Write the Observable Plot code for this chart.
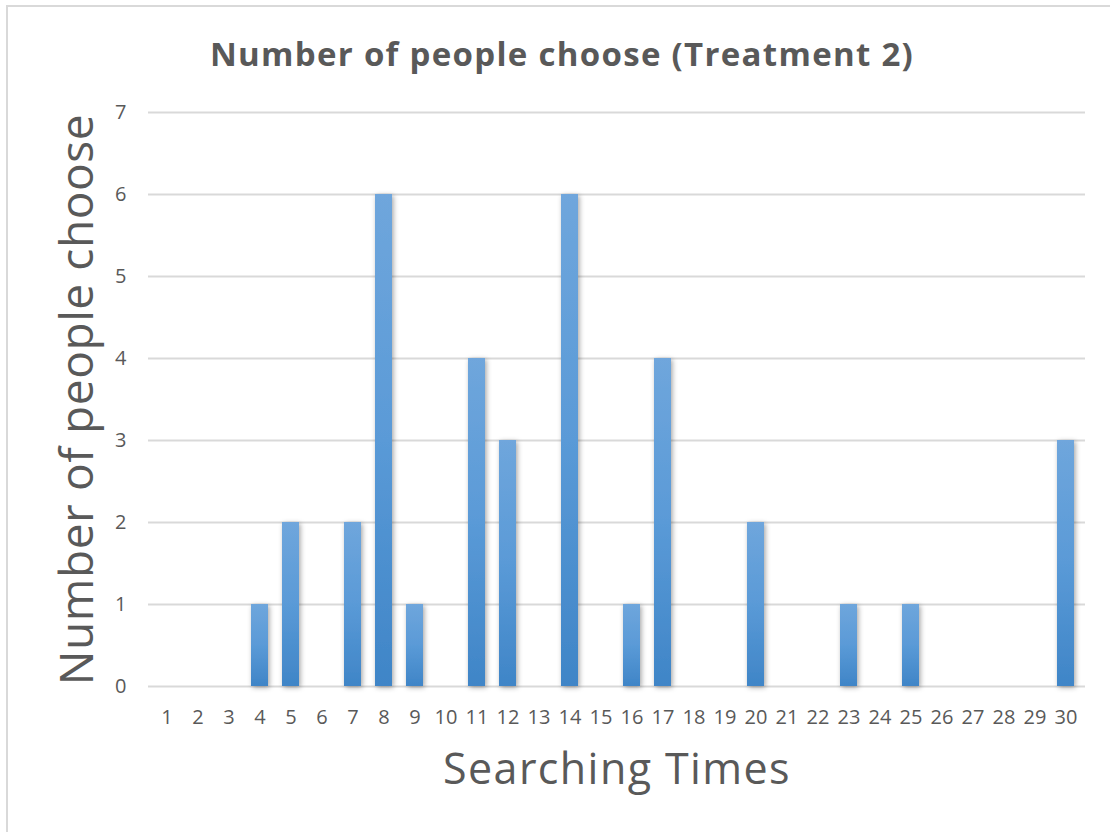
<!DOCTYPE html>
<html>
<head>
<meta charset="utf-8">
<script src="https://cdn.jsdelivr.net/npm/d3@7"></script>
<script src="https://cdn.jsdelivr.net/npm/@observablehq/plot@0.6"></script>
<style>
  html, body { margin: 0; padding: 0; background: #fff; }
  #chart {
    position: relative;
    width: 1110px;
    height: 832px;
    overflow: hidden;
    font-family: "Open Sans", Lato, sans-serif;
  }
  #frame {
    position: absolute;
    left: 6px;
    top: 5px;
    right: -10px;
    bottom: -10px;
    border-top: 2px solid #d9d9d9;
    border-left: 2px solid #d9d9d9;
    pointer-events: none;
  }
  #title {
    position: relative;
    height: 80px;
  }
  #title span {
    position: absolute;
    left: 562px;
    top: 37px;
    transform: translateX(-50%);
    white-space: nowrap;
    font-size: 33px;
    letter-spacing: 1.3px;
    line-height: 1;
    font-weight: bold;
    color: #595959;
  }
  #plot svg { display: block; }
  .axis-title-x { letter-spacing: 1.4px; }
  .axis-title-y { letter-spacing: 0.6px; }
</style>
</head>
<body>
<div id="chart">
  <div id="frame"></div>
  <div id="title"><span>Number of people choose (Treatment 2)</span></div>
  <div id="plot"></div>
</div>
<script>
// Searching times (categories) and how many people chose each
const searchingTimes = [1, 2, 3, 4, 5, 6, 7, 8, 9, 10, 11, 12, 13, 14, 15,
                        16, 17, 18, 19, 20, 21, 22, 23, 24, 25, 26, 27, 28, 29, 30];
const peopleCount    = [0, 0, 0, 1, 2, 0, 2, 6, 1, 0, 4, 3, 0, 6, 0,
                        1, 4, 0, 0, 2, 0, 0, 1, 0, 1, 0, 0, 0, 0, 3];
const yTicks = [0, 1, 2, 3, 4, 5, 6, 7];

const rows = searchingTimes.map((t, i) => ({time: t, count: peopleCount[i]}));

const textColor = "#595959";
const gridColor = "#d9d9d9";
const font = "'Open Sans', Lato, sans-serif";

// gradient fill and soft shadow for the columns
const defs = () => {
  const ns = "http://www.w3.org/2000/svg";
  const d = document.createElementNS(ns, "defs");
  d.innerHTML = `
    <linearGradient id="colFill" x1="0" y1="0" x2="0" y2="1">
      <stop offset="0%" stop-color="#6fa6dc"/>
      <stop offset="50%" stop-color="#5a9ad7"/>
      <stop offset="100%" stop-color="#3f85c7"/>
    </linearGradient>
    <filter id="colShadow" x="-60%" y="-10%" width="220%" height="120%">
      <feDropShadow dx="1.5" dy="1.5" stdDeviation="2.5" flood-color="#000" flood-opacity="0.35"/>
    </filter>`;
  return d;
};

const chart = Plot.plot({
  width: 1110,
  height: 752,
  marginTop: 32,
  marginLeft: 148,
  marginRight: 25,
  marginBottom: 146,
  style: {fontFamily: font, background: "transparent"},
  x: {type: "band", domain: searchingTimes, paddingInner: 0.45, paddingOuter: 0.225, align: 0.5},
  y: {domain: [0, 7]},
  marks: [
    defs,
    Plot.gridY(yTicks, {stroke: gridColor, strokeOpacity: 1, strokeWidth: 2}),
    Plot.barY(rows.filter(d => d.count > 0), {
      x: "time",
      y: "count",
      fill: "url(#colFill)"
    }),
    Plot.axisX({tickSize: 0, tickPadding: 23, fontSize: 20, color: textColor, label: null}),
    Plot.axisY(yTicks, {tickSize: 0, tickPadding: 22, fontSize: 20, color: textColor, label: null, tickFormat: d => String(d)}),
    Plot.text(["Searching Times"], {
      frameAnchor: "bottom",
      lineAnchor: "bottom",
      dy: 97,
      fontSize: 43,
      fill: textColor,
      className: "axis-title-x"
    }),
    Plot.text(["Number of people choose"], {
      frameAnchor: "left",
      textAnchor: "middle",
      lineAnchor: "bottom",
      rotate: -90,
      dx: -56,
      fontSize: 46,
      fill: textColor,
      className: "axis-title-y"
    })
  ]
});

// soft shadow on the column group
chart.querySelectorAll("g[aria-label='bar']").forEach(g => g.setAttribute("filter", "url(#colShadow)"));

document.getElementById("plot").appendChild(chart);
</script>
</body>
</html>
